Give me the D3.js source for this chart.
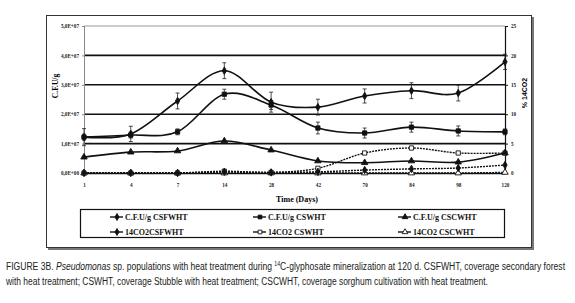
<!DOCTYPE html>
<html>
<head>
<meta charset="utf-8">
<script src="https://cdn.jsdelivr.net/npm/d3@7"></script>
<style>
  body { margin: 0; background: #fff; }
  svg { display: block; }
</style>
</head>
<body>
<script>
// chart values
var days = ["1", "4", "7", "14", "28", "42", "70", "84", "98", "120"];
var cfuCSFWHT = [1.22e7, 1.33e7, 2.45e7, 3.48e7, 2.41e7, 2.24e7, 2.62e7, 2.80e7, 2.72e7, 3.78e7];
var cfuCSFWHTErr = [0.29e7, 0.26e7, 0.27e7, 0.27e7, 0.34e7, 0.27e7, 0.24e7, 0.27e7, 0.27e7, 0.26e7];
var cfuCSWHT = [1.22e7, 1.29e7, 1.40e7, 2.68e7, 2.31e7, 1.53e7, 1.36e7, 1.56e7, 1.43e7, 1.40e7];
var cfuCSWHTErr = [0.1e7, 0.1e7, 0.1e7, 0.17e7, 0.15e7, 0.2e7, 0.17e7, 0.17e7, 0.17e7, 0.1e7];
var cfuCSCWHT = [0.54e7, 0.71e7, 0.75e7, 1.09e7, 0.78e7, 0.41e7, 0.35e7, 0.41e7, 0.37e7, 0.68e7];
var co2CSFWHT = [0, 0, 0, 0.2, 0.1, 0.2, 0.5, 0.7, 0.85, 1.35];
var co2CSWHT = [0, 0, 0, 0.3, 0.1, 0.8, 3.4, 4.25, 3.4, 3.4];
var co2CSCWHT = [0, 0, 0, 0, 0, 0, 0, 0, 0, 0.1];
var leftTicks = [0, 1e7, 2e7, 3e7, 4e7, 5e7];
var leftTickLabels = ["0,0E+00", "1,0E+07", "2,0E+07", "3,0E+07", "4,0E+07", "5,0E+07"];
var rightTicks = [0, 5, 10, 15, 20, 25];
var legendNames = ["C.F.U/g CSFWHT", "C.F.U/g CSWHT", "C.F.U/g CSCWHT",
                   "14CO2CSFWHT", "14CO2 CSWHT", "14CO2 CSCWHT"];

var W = 575, H = 303;
var L = 84, R = 505, T = 26, B = 173;
var serif = "'Liberation Serif', 'Times New Roman', serif";

function main() {
  var svg = d3.select("body").append("svg")
    .attr("width", W).attr("height", H);

  // outer frame with a small shadow
  svg.append("rect").attr("x", 48).attr("y", 17).attr("width", 486).attr("height", 233)
    .attr("fill", "#777");
  svg.append("rect").attr("x", 46.5).attr("y", 15.5).attr("width", 485).attr("height", 232)
    .attr("fill", "#fff").attr("stroke", "#333").attr("stroke-width", 1);

  var x = d3.scalePoint().domain(days).range([L, R]);
  var yL = d3.scaleLinear().domain([0, 5e7]).range([B, T]);
  var yR = d3.scaleLinear().domain([0, 25]).range([B, T]);

  // gridlines
  svg.selectAll(".grid").data(leftTicks.slice(1)).enter().append("line")
    .attr("x1", L).attr("x2", R)
    .attr("y1", function(d) { return yL(d); })
    .attr("y2", function(d) { return yL(d); })
    .attr("stroke", function(d) { return d == 5e7 ? "#999" : "#111"; })
    .attr("stroke-width", function(d) { return d == 5e7 ? 1 : 1.6; });

  // left axis
  var leftAxis = d3.axisLeft(yL).tickValues(leftTicks)
    .tickFormat(function(d, i) { return leftTickLabels[i]; }).tickSize(2);
  var gl = svg.append("g").attr("transform", "translate(" + L + ",0)").call(leftAxis);
  gl.select(".domain").attr("stroke", "#888");
  gl.selectAll(".tick line").attr("stroke", "#888");
  gl.selectAll("text").attr("font-family", serif).attr("font-size", 5.2)
    .attr("font-weight", "bold").attr("x", -5).attr("fill", "#222");

  // right axis
  var rightAxis = d3.axisRight(yR).tickValues(rightTicks).tickSize(3);
  var gr = svg.append("g").attr("transform", "translate(" + R + ",0)").call(rightAxis);
  gr.select(".domain").attr("stroke", "#111").attr("stroke-width", 1.2);
  gr.selectAll(".tick line").attr("stroke", "#111");
  gr.selectAll("text").attr("font-family", serif).attr("font-size", 5.2)
    .attr("font-weight", "bold").attr("x", 6).attr("fill", "#222");

  // bottom axis
  var bottomAxis = d3.axisBottom(x).tickSize(0);
  var gb = svg.append("g").attr("transform", "translate(0," + B + ")").call(bottomAxis);
  gb.select(".domain").attr("stroke", "#111").attr("stroke-width", 1.6);
  gb.selectAll("text").attr("font-family", serif).attr("font-size", 5.2)
    .attr("font-weight", "bold").attr("y", 10).attr("fill", "#222");

  // axis titles
  svg.append("text").attr("x", 297).attr("y", 202).attr("text-anchor", "middle")
    .attr("font-family", serif).attr("font-weight", "bold").attr("font-size", 8)
    .text("Time (Days)");
  svg.append("text").attr("transform", "translate(58,86) rotate(-90)")
    .attr("text-anchor", "middle").attr("font-family", serif).attr("font-weight", "bold")
    .attr("font-size", 7.5).text("C.F.U/g");
  svg.append("text").attr("transform", "translate(527,93) rotate(-90)")
    .attr("text-anchor", "middle").attr("font-family", "'Liberation Sans', Arial, sans-serif")
    .attr("font-weight", "bold").attr("font-size", 7).text("% 14CO2");

  var series = [
    {vals: cfuCSFWHT, err: cfuCSFWHTErr, y: yL, shape: "diamond", fill: "#111", dash: null},
    {vals: cfuCSWHT, err: cfuCSWHTErr, y: yL, shape: "square", fill: "#111", dash: null},
    {vals: cfuCSCWHT, err: null, y: yL, shape: "triangle", fill: "#111", dash: null},
    {vals: co2CSFWHT, err: null, y: yR, shape: "diamond", fill: "#111", dash: "2,1"},
    {vals: co2CSWHT, err: null, y: yR, shape: "square", fill: "#fff", dash: "2,1"},
    {vals: co2CSCWHT, err: null, y: yR, shape: "triangle", fill: "#fff", dash: "2,1"}
  ];

  var line = d3.line().curve(d3.curveCatmullRom.alpha(0));
  var symbols = {diamond: d3.symbolDiamond, square: d3.symbolSquare, triangle: d3.symbolTriangle};

  // draw the lower series first so the top ones sit on them
  series.slice().reverse().forEach(function(s) {
    var pts = s.vals.map(function(v, i) { return [x(days[i]), s.y(v)]; });
    svg.append("path").attr("d", line(pts)).attr("fill", "none")
      .attr("stroke", "#111").attr("stroke-width", s.dash ? 1.4 : 1.6)
      .attr("stroke-dasharray", s.dash);

    if (s.err) {
      var eg = svg.append("g").attr("stroke", "#222").attr("stroke-width", 0.8);
      s.vals.forEach(function(v, i) {
        var cx = x(days[i]);
        var y1 = s.y(v - s.err[i]), y2 = s.y(v + s.err[i]);
        eg.append("line").attr("x1", cx).attr("x2", cx).attr("y1", y1).attr("y2", y2);
        eg.append("line").attr("x1", cx - 2).attr("x2", cx + 2).attr("y1", y1).attr("y2", y1);
        eg.append("line").attr("x1", cx - 2).attr("x2", cx + 2).attr("y1", y2).attr("y2", y2);
      });
    }

    svg.append("g").selectAll("path").data(s.vals).enter().append("path")
      .attr("transform", function(d, i) { return "translate(" + x(days[i]) + "," + s.y(d) + ")"; })
      .attr("d", d3.symbol().type(symbols[s.shape]).size(s.shape == "diamond" ? 16 : 18))
      .attr("fill", s.fill).attr("stroke", "#111").attr("stroke-width", 0.9);
  });

  // legend
  svg.append("rect").attr("x", 80.5).attr("y", 209.5).attr("width", 424).attr("height", 28)
    .attr("fill", "#fff").attr("stroke", "#111").attr("stroke-width", 1.2);
  var colX = [110, 253, 398];
  var rowY = [217, 232];
  series.forEach(function(s, i) {
    var cx = colX[i % 3], cy = rowY[Math.floor(i / 3)];
    var g = svg.append("g");
    g.append("line").attr("x1", cx).attr("x2", cx + 13).attr("y1", cy).attr("y2", cy)
      .attr("stroke", "#111").attr("stroke-width", 1.4);
    g.append("path").attr("transform", "translate(" + (cx + 7) + "," + cy + ")")
      .attr("d", d3.symbol().type(symbols[s.shape]).size(14))
      .attr("fill", s.fill).attr("stroke", "#111").attr("stroke-width", 0.9);
    g.append("text").attr("x", cx + 15).attr("y", cy + 2.8)
      .attr("font-family", serif).attr("font-weight", "bold").attr("font-size", 8)
      .attr("fill", "#111").text(legendNames[i]);
  });

  // caption, squeezed horizontally to the width of the original lines
  var capFont = "'Liberation Sans', Arial, sans-serif";
  function caption(y, width, build) {
    var t = svg.append("text").attr("x", 0).attr("y", 0).attr("font-family", capFont)
      .attr("font-size", 11.5).attr("fill", "#222");
    build(t);
    var natural = t.node().getComputedTextLength();
    t.attr("transform", "translate(6," + y + ") scale(" + (width / natural) + ",1)");
  }
  caption(270, 560, function(t) {
    t.append("tspan").text("FIGURE 3B. ");
    t.append("tspan").attr("font-style", "italic").text("Pseudomonas");
    t.append("tspan").text(" sp. populations with heat treatment during ");
    t.append("tspan").attr("font-size", 7).attr("dy", -4).text("14");
    t.append("tspan").attr("dy", 4).text("C-glyphosate mineralization at 120 d. CSFWHT, coverage secondary forest");
  });
  caption(285, 482, function(t) {
    t.text("with heat treatment; CSWHT, coverage Stubble with heat treatment; CSCWHT, coverage sorghum cultivation with heat treatment.");
  });
}

main();
</script>
</body>
</html>
